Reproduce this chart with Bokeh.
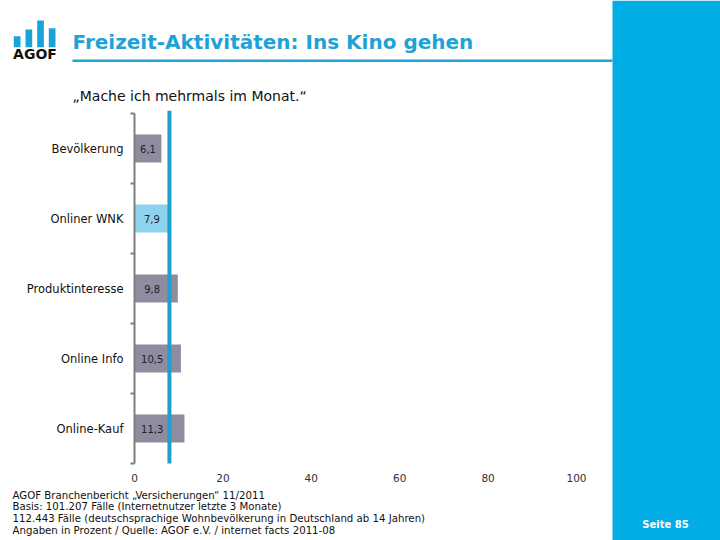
from bokeh.plotting import figure
from bokeh.models import (Range1d, FixedTicker, LinearAxis, Label, BoxAnnotation,
                          ColumnDataSource)
from bokeh.core.properties import value
from bokeh.embed import file_html
from bokeh.resources import INLINE

# ---------------- data ----------------
categories = ["Bevölkerung", "Onliner WNK", "Produktinteresse", "Online Info", "Online-Kauf"]
values = [6.1, 7.9, 9.8, 10.5, 11.3]
value_labels = ["6,1", "7,9", "9,8", "10,5", "11,3"]
bar_colors = ["#8E8C9E", "#8ED3EE", "#8E8C9E", "#8E8C9E", "#8E8C9E"]
reference_value = values[1]  # Onliner WNK reference line
x_ticks = [0, 20, 40, 60, 80, 100]

title_text = "Freizeit-Aktivitäten: Ins Kino gehen"
subtitle_text = "\u201eMache ich mehrmals im Monat.\u201c"
footer_lines = [
    "AGOF Branchenbericht \u201eVersicherungen\u201c 11/2011",
    "Basis: 101.207 Fälle (Internetnutzer letzte 3 Monate)",
    "112.443 Fälle (deutschsprachige Wohnbevölkerung in Deutschland ab 14 Jahren)",
    "Angaben in Prozent /  Quelle: AGOF e.V. / internet facts 2011-08",
]
page_text = "Seite 85"
logo_heights = [11, 17.7, 26.7, 19]

W, H = 720, 540
# chart area in canvas pixels (x: 0..100, y: category slots)
CL, CR, CT, CB = 134, 576, 113, 463
n = len(categories)
xpx = (CR - CL) / 100.0
ypx = (CB - CT) / n

y_pos = [i + 0.5 for i in range(n)]
label_x = [min(v / 2.0, 4.0) for v in values]

src = ColumnDataSource(dict(y=y_pos, v=values, c=bar_colors, lab=value_labels, lx=label_x))

p = figure(width=W, height=H, output_backend="svg", toolbar_location=None,
           x_range=Range1d(-CL / xpx, (W - CL) / xpx),
           y_range=Range1d((H - CT) / ypx, -CT / ypx),
           x_axis_type=None, y_axis_type=None, min_border=0)
p.outline_line_color = None
p.background_fill_color = "white"
p.border_fill_color = "white"
p.xgrid.visible = False
p.ygrid.visible = False

# bars
p.hbar(y="y", left=0, right="v", height=0.4, color="c", line_color=None, source=src)
p.text(x="lx", y="y", text="lab", source=src, text_align="center", text_baseline="middle",
       text_font=value("DejaVu Sans"), text_font_size="10px", text_color="#1E1E30")

# reference line
p.segment(x0=[reference_value], y0=[-0.04], x1=[reference_value], y1=[n],
          line_color="#1EA0CF", line_width=4)

# x axis (labels only)
xa = LinearAxis(ticker=FixedTicker(ticks=x_ticks), fixed_location=n, bounds=(0, 100))
xa.axis_line_color = None
xa.major_tick_line_color = None
xa.minor_tick_line_color = None
xa.major_label_standoff = 4
xa.major_label_text_font = "DejaVu Sans"
xa.major_label_text_font_size = "10.5px"
xa.major_label_text_color = "#333333"
p.add_layout(xa, "below")

# y axis: labels at centers, ticks at boundaries
ya = LinearAxis(ticker=FixedTicker(ticks=y_pos, minor_ticks=list(range(n + 1))),
                fixed_location=0, bounds=(0, n))
ya.major_label_overrides = {y: c for y, c in zip(y_pos, categories)}
ya.axis_line_color = "#7F7F7F"
ya.axis_line_width = 2
ya.major_tick_line_color = None
ya.minor_tick_line_color = "#7F7F7F"
ya.minor_tick_line_width = 2
ya.minor_tick_in = 0
ya.minor_tick_out = 4
ya.major_label_standoff = 5
ya.major_label_text_font = "DejaVu Sans"
ya.major_label_text_font_size = "11.5px"
ya.major_label_text_color = "#111111"
p.add_layout(ya, "left")


def box(l, r, t, b, color):
    p.add_layout(BoxAnnotation(left=l, right=r, top=t, bottom=b,
                               left_units="canvas", right_units="canvas",
                               top_units="canvas", bottom_units="canvas",
                               fill_color=color, fill_alpha=1.0, line_color=None,
                               level="underlay"))


def label(x, y, text, size, color="#111111", bold=False, align="left", font="DejaVu Sans"):
    p.add_layout(Label(x=x, y=y, x_units="canvas", y_units="canvas", text=text,
                       text_font=font, text_font_size=size, text_color=color,
                       text_font_style="bold" if bold else "normal",
                       text_align=align, text_baseline="middle", level="overlay"))


# right blue column
box(612, W, 0, H, "#00ADE4")
# title underline
box(72, 612, 59, 61.5, "#1EA5D6")
# logo bars
logo_x = [13.3, 25, 36.7, 48.3]
for lx, hgt in zip(logo_x, logo_heights):
    box(lx, lx + 6.7, 46.7 - hgt, 46.7, "#1AA3DB")
label(34.5, 53.5, "AGOF", "14px", color="#111111", bold=True, align="center")

label(72, 41, title_text, "20px", color="#1FA2D6", bold=True)
label(72, 95, subtitle_text, "14px", color="#111111")

for i, t in enumerate(footer_lines):
    label(12, 494.5 + i * 11.8, t, "10.2px", color="#111111")

label(665, 524, page_text, "10px", color="white", bold=True, align="center")

open("out.html", "w").write(file_html(p, INLINE))
